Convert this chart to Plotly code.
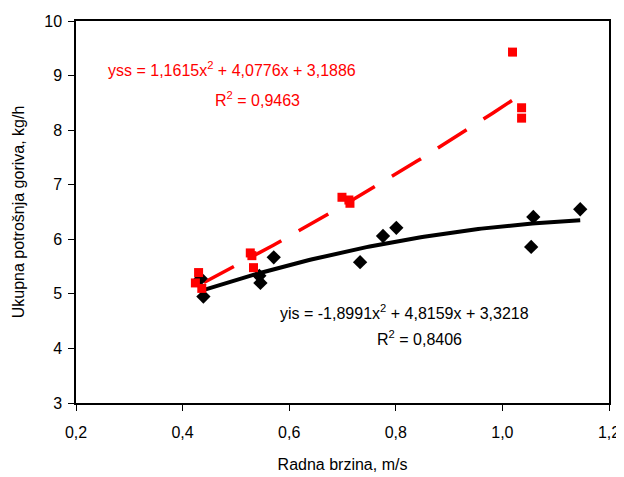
import numpy as np
import plotly.graph_objects as go

# Measured points
yss_x = [0.424, 0.430, 0.436, 0.527, 0.530, 0.533, 0.699, 0.712, 0.714, 1.019, 1.036, 1.036]
yss_y = [5.20, 5.39, 5.10, 5.75, 5.70, 5.48, 6.77, 6.72, 6.66, 9.43, 8.41, 8.22]

yis_x = [0.434, 0.439, 0.544, 0.546, 0.571, 0.733, 0.776, 0.801, 1.054, 1.058, 1.146]
yis_y = [5.28, 4.95, 5.33, 5.20, 5.67, 5.58, 6.06, 6.21, 5.86, 6.41, 6.55]

# Trendline coefficients shown on the chart
yss_coef = [1.1615, 4.0776, 3.1886]
yis_coef = [-1.8991, 4.8159, 3.3218]
yss_range = [0.44, 1.036]
yis_range = [0.434, 1.146]

x_ticks = [0.2, 0.4, 0.6, 0.8, 1.0, 1.2]
y_ticks = [3, 4, 5, 6, 7, 8, 9, 10]

FONT = "Liberation Sans, Arial, sans-serif"

def curve(coef, rng):
    xs = np.linspace(rng[0], rng[1], 120)
    return xs, np.polyval(coef, xs)

fig = go.Figure()

cx, cy = curve(yss_coef, yss_range)
fig.add_trace(go.Scatter(x=cx, y=cy, mode="lines",
                         line=dict(color="#ff0000", width=3.5, dash="34px,20px"),
                         showlegend=False, hoverinfo="skip"))
cx2, cy2 = curve(yis_coef, yis_range)
fig.add_trace(go.Scatter(x=cx2, y=cy2, mode="lines",
                         line=dict(color="#000000", width=4),
                         showlegend=False, hoverinfo="skip"))

fig.add_trace(go.Scatter(x=yis_x, y=yis_y, mode="markers",
                         marker=dict(symbol="diamond", size=11, color="#000000"),
                         showlegend=False))
fig.add_trace(go.Scatter(x=yss_x, y=yss_y, mode="markers",
                         marker=dict(symbol="square", size=9, color="#ff0000"),
                         showlegend=False))

annots = [
    dict(x=0.493, y=9.12, text="yss = 1,1615x<sup>2</sup> + 4,0776x + 3,1886", color="#ff0000"),
    dict(x=0.540, y=8.57, text="R<sup>2</sup> = 0,9463", color="#ff0000"),
    dict(x=0.816, y=4.67, text="yis = -1,8991x<sup>2</sup> + 4,8159x + 3,3218", color="#000000"),
    dict(x=0.844, y=4.19, text="R<sup>2</sup> = 0,8406", color="#000000"),
]
for a in annots:
    fig.add_annotation(x=a["x"], y=a["y"], text=a["text"], showarrow=False,
                       font=dict(family=FONT, size=16, color=a["color"]),
                       xanchor="center", yanchor="middle")

fig.update_layout(
    width=616, height=469,
    margin=dict(l=68, r=15, t=13, b=74, autoexpand=False),
    paper_bgcolor="white", plot_bgcolor="white",
    separators=",.",
    font=dict(family=FONT, size=16, color="black"),
    xaxis=dict(range=[0.2, 1.2], tickvals=x_ticks, tickformat=".1f", automargin=False,
               showgrid=False, zeroline=False, showline=True, linecolor="black",
               linewidth=1.5, mirror=True, ticks="outside", ticklen=6,
               tickcolor="black", tickwidth=1, ticklabelstandoff=8,
               title=dict(text="Radna brzina, m/s", font=dict(size=16), standoff=19)),
    yaxis=dict(range=[3, 10], tickvals=y_ticks, automargin=False,
               showgrid=False, zeroline=False, showline=True, linecolor="black",
               linewidth=1.5, mirror=True, ticks="outside", ticklen=6,
               tickcolor="black", tickwidth=1, ticklabelstandoff=3,
               title=dict(text="Ukupna potrošnja goriva, kg/h", font=dict(size=16), standoff=16)),
)

fig.write_html("out.html")
